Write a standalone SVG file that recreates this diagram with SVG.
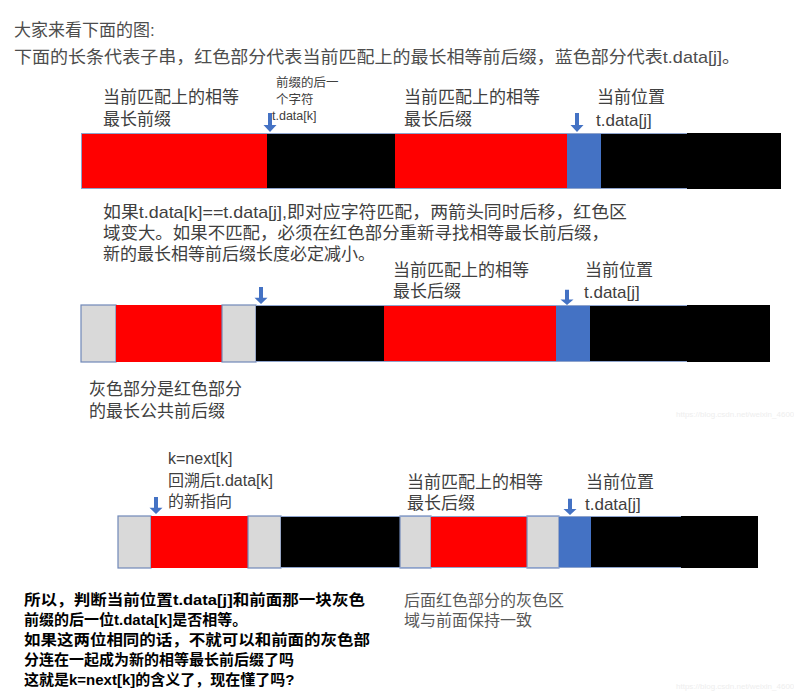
<svg xmlns="http://www.w3.org/2000/svg" width="794" height="692" viewBox="0 0 794 692">
<defs>
<style>
text{font-family:"Liberation Sans","Noto Sans CJK SC",sans-serif}
.intro{font-size:17px;fill:#4d4d4d}
.lbl{font-size:17px;fill:#404040}
.sm{font-size:12.5px;fill:#404040}
.mid{font-size:16px;fill:#404040}
.bold{font-size:15px;fill:#000;font-weight:bold}
.gray{font-size:16px;fill:#595959}
.wm{font-size:8px;fill:#eeeeee;font-family:"Liberation Sans",sans-serif}
.r{fill:#ff0000}
.k{fill:#000}
.b{fill:#4472c4}
.g{fill:#d9d9d9;stroke:#7088b8;stroke-width:1.2}
.ol{fill:none;stroke:#8ea3cc;stroke-width:1}
.arr{fill:#4472c4}
</style>
<path id="ar" d="M-2,-19 h4 v12 h4.5 l-6.5,7 l-6.5,-7 h4.5 z"/>
</defs>
<rect width="794" height="692" fill="#fff"/>

<text class="intro" x="14" y="36">大家来看下面的图:</text>
<text class="intro" x="14" y="63" textLength="726" lengthAdjust="spacingAndGlyphs">下面的长条代表子串，红色部分代表当前匹配上的最长相等前后缀，蓝色部分代表t.data[j]。</text>

<g id="bar1">
<rect class="r" x="81" y="133" width="186" height="56"/>
<rect class="k" x="267" y="133" width="128" height="56"/>
<rect class="r" x="395" y="133" width="172" height="56"/>
<rect class="b" x="567" y="133" width="34" height="56"/>
<rect class="k" x="601" y="133" width="180" height="56"/>
<path class="ol" d="M81,133.5 H687 M81,188.5 H687 M81.5,133 V189"/>
</g>
<g id="labels1">
<text class="lbl" x="103" y="103">当前匹配上的相等<tspan x="103" dy="22">最长前缀</tspan></text>
<text class="sm" x="276" y="87">前缀的后一<tspan x="276" dy="17">个字符</tspan><tspan x="272" dy="16">t.data[k]</tspan></text>
<text class="lbl" x="404" y="103">当前匹配上的相等<tspan x="404" dy="22">最长后缀</tspan></text>
<text class="lbl" x="597" y="103">当前位置<tspan x="596" dy="23">t.data[j]</tspan></text>
</g>

<g id="note1">
<text class="lbl" x="103" y="218"><tspan textLength="524" lengthAdjust="spacingAndGlyphs">如果t.data[k]==t.data[j],即对应字符匹配，两箭头同时后移，红色区</tspan><tspan x="103" dy="21" textLength="506" lengthAdjust="spacingAndGlyphs">域变大。如果不匹配，必须在红色部分重新寻找相等最长前后缀，</tspan><tspan x="103" dy="21">新的最长相等前后缀长度必定减小。</tspan></text>
</g>

<g id="bar2">
<rect class="g" x="81" y="305" width="35" height="57"/>
<rect class="r" x="116" y="305" width="106" height="57"/>
<rect class="g" x="222" y="305" width="34" height="57"/>
<rect class="k" x="256" y="305" width="128" height="57"/>
<rect class="r" x="384" y="305" width="172" height="57"/>
<rect class="b" x="556" y="305" width="34" height="57"/>
<rect class="k" x="590" y="305" width="180" height="57"/>
<path class="ol" d="M256,305.5 H687 M256,361.5 H687"/>
</g>
<g id="labels2">
<text class="lbl" x="393" y="276">当前匹配上的相等<tspan x="393" dy="21">最长后缀</tspan></text>
<text class="lbl" x="585" y="276">当前位置<tspan x="584" dy="22">t.data[j]</tspan></text>
<text class="lbl" x="89" y="395">灰色部分是红色部分<tspan x="89" dy="22">的最长公共前后缀</tspan></text>
<text class="wm" x="676" y="417">https://blog.csdn.net/weixin_4600</text>
</g>

<g id="bar3">
<rect class="g" x="118" y="516" width="33" height="52"/>
<rect class="r" x="151" y="516" width="97" height="52"/>
<rect class="g" x="248" y="516" width="33" height="52"/>
<rect class="k" x="281" y="516" width="119" height="52"/>
<rect class="g" x="400" y="516" width="31" height="52"/>
<rect class="r" x="431" y="516" width="96" height="52"/>
<rect class="g" x="527" y="516" width="32" height="52"/>
<rect class="b" x="559" y="516" width="32" height="52"/>
<rect class="k" x="591" y="516" width="167" height="52"/>
<path class="ol" d="M281,516.5 H681 M281,567.5 H681"/>
</g>
<g id="labels3">
<text class="mid" x="168" y="464">k=next[k]<tspan x="168" dy="22">回溯后t.data[k]</tspan><tspan x="168" dy="21">的新指向</tspan></text>
<text class="lbl" x="407" y="488">当前匹配上的相等<tspan x="407" dy="21">最长后缀</tspan></text>
<text class="lbl" x="586" y="488">当前位置<tspan x="585" dy="22">t.data[j]</tspan></text>
</g>

<g id="note3">
<text class="bold" x="24" y="605"><tspan textLength="341" lengthAdjust="spacingAndGlyphs">所以，判断当前位置t.data[j]和前面那一块灰色</tspan><tspan x="24" dy="20">前缀的后一位t.data[k]是否相等。</tspan><tspan x="24" dy="20" textLength="346" lengthAdjust="spacingAndGlyphs">如果这两位相同的话，不就可以和前面的灰色部</tspan><tspan x="24" dy="20">分连在一起成为新的相等最长前后缀了吗</tspan><tspan x="24" dy="20">这就是k=next[k]的含义了，现在懂了吗?</tspan></text>
<text class="gray" x="404" y="606">后面红色部分的灰色区<tspan x="404" dy="20">域与前面保持一致</tspan></text>
<text class="wm" x="676" y="689">https://blog.csdn.net/weixin_4600</text>
</g>

<g id="connectors">
<use href="#ar" class="arr" transform="translate(270,132)"/>
<use href="#ar" class="arr" transform="translate(577,132)"/>
<use href="#ar" class="arr" transform="translate(261,304) scale(1,0.9)"/>
<use href="#ar" class="arr" transform="translate(567,305) scale(1,0.8)"/>
<use href="#ar" class="arr" transform="translate(156,514) scale(1,0.9)"/>
<use href="#ar" class="arr" transform="translate(570,515) scale(1,0.85)"/>
</g>
</svg>
